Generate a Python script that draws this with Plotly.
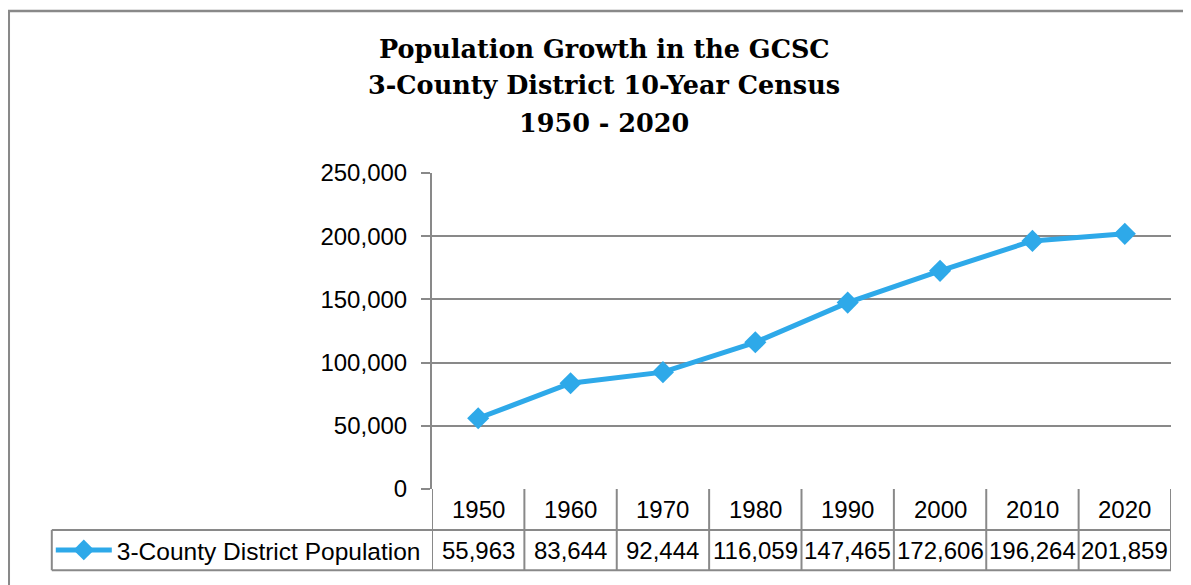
import plotly.graph_objects as go

years = ["1950", "1960", "1970", "1980", "1990", "2000", "2010", "2020"]
population = [55963, 83644, 92444, 116059, 147465, 172606, 196264, 201859]
series_name = "3-County District Population"
title_lines = ["Population Growth in the GCSC", "3-County District 10-Year Census", "1950 - 2020"]
y_ticks = [0, 50000, 100000, 150000, 200000, 250000]

# window size; the page body adds an 8px margin on top/left
W, H = 1191, 585
OFF = 8
L, R, T, B = 432, 1170.6, 173, 494
GRAY = "#898989"
BLUE = "#2EA9E9"

def px(x):
    return (x - L) / (R - L)

def py(y):
    return (B - y) / (B - T)

fig = go.Figure()
fig.add_trace(go.Scatter(
    x=years, y=population, mode="lines+markers", name=series_name,
    line=dict(color=BLUE, width=5),
    marker=dict(symbol="diamond", size=17, color=BLUE),
    cliponaxis=False,
))

shapes = []
row1, row2 = 535.7, 576.5
for i in range(len(years) + 1):
    shapes.append(dict(type="line", xref="x", yref="paper", x0=i - 0.5, x1=i - 0.5,
                       y0=py(B), y1=py(row2), line=dict(color=GRAY, width=2)))
for yy in (row1, row2):
    shapes.append(dict(type="line", xref="paper", yref="paper", x0=px(52), x1=px(R),
                       y0=py(yy), y1=py(yy), line=dict(color=GRAY, width=2)))
shapes.append(dict(type="line", xref="paper", yref="paper", x0=px(52), x1=px(52),
                   y0=py(row1), y1=py(row2), line=dict(color=GRAY, width=2)))
# outer chart border
shapes.append(dict(type="line", xref="paper", yref="paper", x0=px(9), x1=px(9),
                   y0=py(8.5), y1=py(600), line=dict(color=GRAY, width=2.5)))
shapes.append(dict(type="line", xref="paper", yref="paper", x0=px(8), x1=px(1200),
                   y0=py(8.5), y1=py(8.5), line=dict(color=GRAY, width=2.5)))

annotations = []
for i, yr in enumerate(years):
    annotations.append(dict(x=i, y=py(515), xref="x", yref="paper", text=yr, showarrow=False,
                            font=dict(family="Liberation Sans", size=24, color="#000"),
                            xanchor="center", yanchor="middle"))
    annotations.append(dict(x=i, y=py(556), xref="x", yref="paper", text=f"{population[i]:,}",
                            showarrow=False,
                            font=dict(family="Liberation Sans", size=24, color="#000"),
                            xanchor="center", yanchor="middle"))
for line_text, yc in zip(title_lines, (47, 84, 122)):
    annotations.append(dict(x=px(604), y=py(yc), xref="paper", yref="paper",
                            text=f"<b>{line_text}</b>", showarrow=False,
                            xanchor="center", yanchor="middle",
                            font=dict(family="DejaVu Serif", size=25.5, color="#000")))

fig.update_layout(
    width=W - OFF, height=H - OFF,
    margin=dict(l=L - OFF, r=W - R, t=T - OFF, b=H - B, pad=0),
    paper_bgcolor="white", plot_bgcolor="white",
    showlegend=True,
    legend=dict(x=px(51), y=py(556), xref="paper", yref="paper", xanchor="left", yanchor="middle",
                font=dict(family="Liberation Sans", size=24.5, color="#000"),
                itemwidth=56, bgcolor="rgba(0,0,0,0)", borderwidth=0),
    xaxis=dict(type="category", range=[-0.5, len(years) - 0.5], showticklabels=False,
               showgrid=False, showline=False, zeroline=False, ticks=""),
    yaxis=dict(range=[0, 250000], tickvals=y_ticks, tickformat=",", showgrid=True,
               gridcolor=GRAY, gridwidth=2, zeroline=False, showline=True, linecolor=GRAY,
               linewidth=2, ticks="outside", ticklen=9, tickwidth=2, tickcolor=GRAY,
               ticklabelstandoff=9,
               tickfont=dict(family="Liberation Sans", size=24, color="#000")),
    shapes=shapes, annotations=annotations,
)

fig.write_html("out.html", config={"displayModeBar": False})
